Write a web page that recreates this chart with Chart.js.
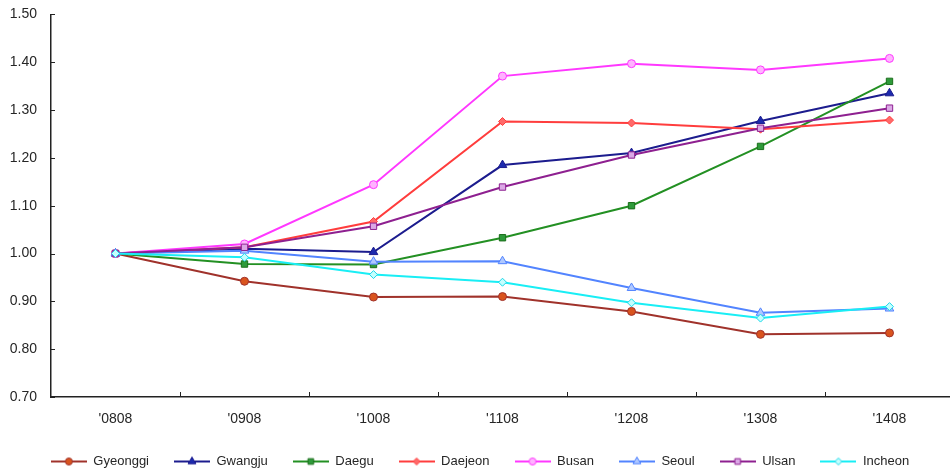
<!DOCTYPE html>
<html>
<head>
<meta charset="utf-8">
<script src="https://cdn.jsdelivr.net/npm/chart.js@4.4.1/dist/chart.umd.min.js"></script>
<style>
  html, body { margin: 0; padding: 0; background: #fff; overflow: hidden; }
  #wrap { width: 960px; height: 473px; position: relative; }
</style>
</head>
<body>
<div id="wrap"><canvas id="chart"></canvas></div>
<script>
const periods = ["'0808", "'0908", "'1008", "'1108", "'1208", "'1308", "'1408"];

const gyeonggi = [1.00, 0.942, 0.909, 0.910, 0.879, 0.831, 0.834];
const gwangju  = [1.00, 1.010, 1.003, 1.185, 1.210, 1.277, 1.335];
const daegu    = [1.00, 0.978, 0.977, 1.033, 1.100, 1.224, 1.360];
const daejeon  = [1.00, 1.013, 1.067, 1.276, 1.273, 1.260, 1.279];
const busan    = [1.00, 1.020, 1.144, 1.371, 1.397, 1.384, 1.408];
const seoul    = [1.00, 1.006, 0.983, 0.984, 0.928, 0.876, 0.885];
const ulsan    = [1.00, 1.013, 1.057, 1.139, 1.206, 1.262, 1.304];
const incheon  = [1.00, 0.992, 0.956, 0.940, 0.897, 0.865, 0.889];

const yTicks = [0.7, 0.8, 0.9, 1.0, 1.1, 1.2, 1.3, 1.4, 1.5];

const FONT = "'Liberation Sans', Arial, sans-serif";
const TEXT = '#262626';

function series(label, data, line, fill, edge, style, radius) {
  return {
    label, data,
    borderColor: line,
    borderWidth: 2,
    pointStyle: style,
    pointRadius: radius,
    pointBackgroundColor: fill,
    pointBorderColor: edge,
    pointBorderWidth: 1,
    tension: 0,
    fill: false
  };
}

const datasets = [
  series('Gyeonggi', gyeonggi, '#A0322B', '#D9541E', '#A0322B', 'circle', 4),
  series('Gwangju', gwangju, '#1C1C8E', '#1C2AAE', '#1C1C8E', 'triangle', 5),
  series('Daegu', daegu, '#239023', '#2E9A3A', '#1B6E1B', 'rect', 4.5),
  series('Daejeon', daejeon, '#FF3D3D', '#FF6A6A', '#FF3D3D', 'rectRot', 4),
  series('Busan', busan, '#FF38FF', '#FFB3FF', '#FF38FF', 'circle', 4),
  series('Seoul', seoul, '#5284FF', '#AFC8FF', '#5284FF', 'triangle', 5),
  series('Ulsan', ulsan, '#8E2090', '#DBA8E6', '#8E2090', 'rect', 4.5),
  series('Incheon', incheon, '#19EEF5', '#C4FFFF', '#19D8E8', 'rectRot', 4)
];
// later series drawn on top, like the source
datasets.forEach((d, i) => { d.order = -i; });

// legend swatch: short line with the marker in the middle
function swatch(ds) {
  const c = document.createElement('canvas');
  c.width = 36; c.height = 12;
  const ctx = c.getContext('2d');
  ctx.strokeStyle = ds.borderColor;
  ctx.lineWidth = 2;
  ctx.beginPath();
  ctx.moveTo(0, 6); ctx.lineTo(36, 6);
  ctx.stroke();
  ctx.fillStyle = ds.pointBackgroundColor;
  ctx.strokeStyle = ds.pointBorderColor;
  ctx.lineWidth = 1;
  Chart.helpers.drawPoint(ctx, { pointStyle: ds.pointStyle, radius: ds.pointRadius - 0.5, rotation: 0, borderWidth: 1 }, 18, 6);
  return c;
}

// small inner tick marks on both axes
const innerTicks = {
  id: 'innerTicks',
  afterDatasetsDraw(chart) {
    const { ctx, scales: { x, y }, chartArea } = chart;
    ctx.save();
    ctx.strokeStyle = '#222';
    ctx.lineWidth = 1;
    ctx.beginPath();
    yTicks.forEach(v => {
      const py = Math.round(y.getPixelForValue(v)) + 0.5;
      ctx.moveTo(chartArea.left, py);
      ctx.lineTo(chartArea.left + 4, py);
    });
    for (let i = 0; i < periods.length - 1; i++) {
      const px = Math.round((x.getPixelForValue(i) + x.getPixelForValue(i + 1)) / 2) + 0.5;
      ctx.moveTo(px, chartArea.bottom);
      ctx.lineTo(px, chartArea.bottom - 5);
    }
    ctx.stroke();
    ctx.restore();
  }
};

new Chart(document.getElementById('chart'), {
  type: 'line',
  data: { labels: periods, datasets },
  plugins: [innerTicks],
  options: {
    responsive: true,
    maintainAspectRatio: false,
    animation: false,
    layout: { padding: { top: 7, left: 0, right: 0, bottom: -5 } },
    plugins: {
      tooltip: { enabled: false },
      legend: {
        position: 'bottom',
        labels: {
          usePointStyle: true,
          pointStyleWidth: 36,
          padding: 25,
          color: TEXT,
          font: { family: FONT, size: 13 },
          generateLabels(chart) {
            return chart.data.datasets.map((ds, i) => ({
              text: ds.label,
              pointStyle: swatch(ds),
              fillStyle: ds.borderColor,
              strokeStyle: ds.borderColor,
              fontColor: TEXT,
              lineWidth: 0,
              hidden: false,
              datasetIndex: i
            }));
          }
        }
      }
    },
    scales: {
      x: {
        offset: true,
        grid: { display: false },
        border: { display: true, color: '#222', width: 1.5 },
        ticks: { color: TEXT, font: { family: FONT, size: 14 }, padding: 6, maxRotation: 0 },
        afterFit(scale) { scale.height = 33; }
      },
      y: {
        min: 0.7,
        max: 1.5,
        grid: { display: false },
        border: { display: true, color: '#222', width: 1.5 },
        afterBuildTicks(scale) { scale.ticks = yTicks.map(v => ({ value: v })); },
        ticks: {
          color: TEXT,
          font: { family: FONT, size: 14 },
          padding: 6,
          callback: v => v.toFixed(2)
        },
        afterFit(scale) { scale.width = 51; }
      }
    }
  }
});
</script>
</body>
</html>
